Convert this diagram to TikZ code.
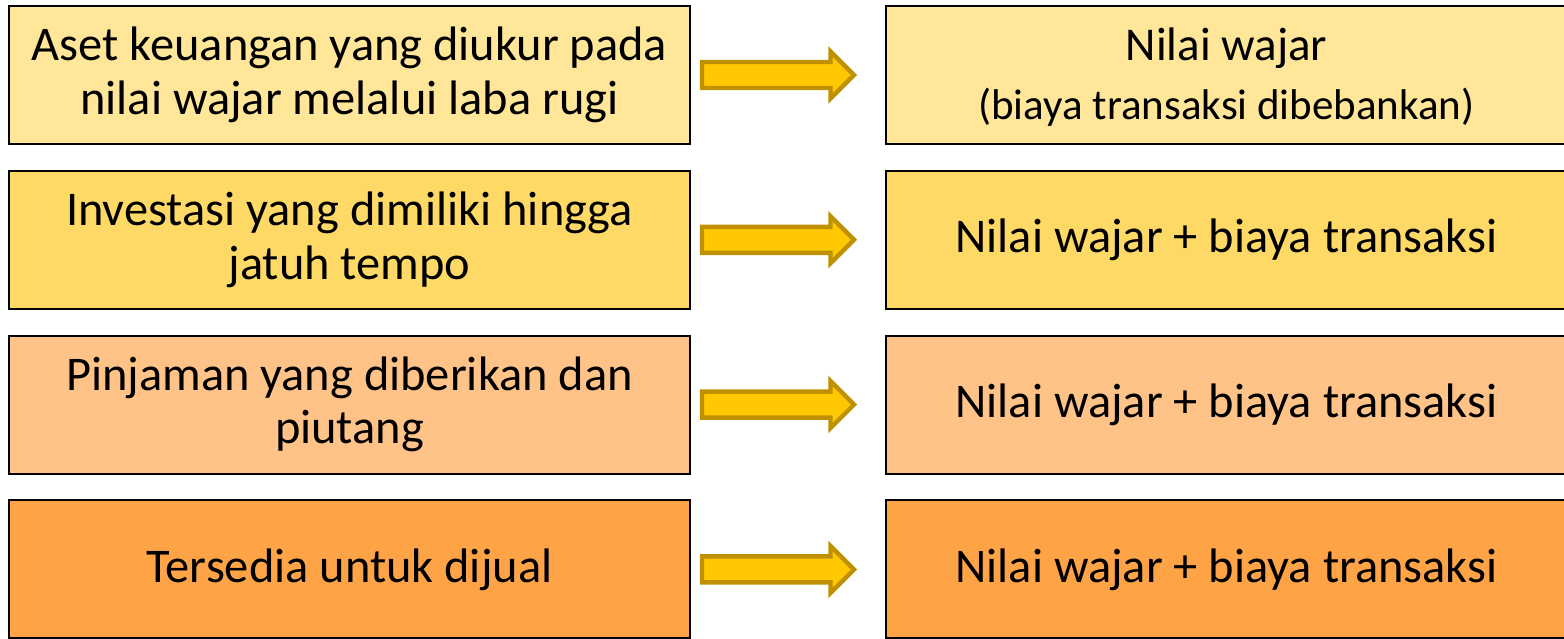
\documentclass[tikz,border=0pt]{standalone}
\usepackage{fontspec}
\setmainfont{Carlito}
\usepackage{tikz}
\usetikzlibrary{positioning,shapes.arrows,calc}
\definecolor{kuningmuda}{HTML}{FFE699}
\definecolor{kuning}{HTML}{FFD966}
\definecolor{jingga}{HTML}{FFC287}
\definecolor{jinggatua}{HTML}{FFA347}
\definecolor{emas}{HTML}{FFC800}
\definecolor{emastua}{HTML}{BF9000}

\begin{document}
\begin{tikzpicture}[
			node distance=12.4pt and 97pt,
			kat/.style={draw=black,line width=1pt,minimum width=340.5pt,minimum height=69pt,inner sep=0pt,align=center,font=\fontsize{24.2}{26.7}\selectfont},
			nilai/.style={kat},
			panah/.style={single arrow,draw=emastua,fill=emas,line width=2.2pt,minimum height=76pt,inner xsep=0pt,inner ysep=5.4pt,single arrow head extend=5.25pt,xshift=-8.25pt}
			]
			\useasboundingbox (0,0) rectangle (782pt,-319pt);
			\node[kat,fill=kuningmuda,anchor=north west] (a1) at (4pt,-2.5pt) {Aset keuangan yang diukur pada\\nilai wajar melalui laba rugi};
			\node[kat,fill=kuning] (a2) [below=of a1] {Investasi yang dimiliki hingga\\jatuh tempo};
			\node[kat,fill=jingga] (a3) [below=of a2] {Pinjaman yang diberikan dan\\piutang};
			\node[kat,fill=jinggatua] (a4) [below=of a3] {Tersedia untuk dijual};
			\node[nilai,fill=kuningmuda,text depth=1.5pt] (b1) [right=of a1] {\fontsize{23.5}{26}\selectfont Nilai wajar\\[3pt]\fontsize{21.5}{24}\selectfont(biaya transaksi dibebankan)};
			\node[nilai,fill=kuning] (b2) [right=of a2] {Nilai wajar + biaya transaksi};
			\node[nilai,fill=jingga] (b3) [right=of a3] {Nilai wajar + biaya transaksi};
			\node[nilai,fill=jinggatua] (b4) [right=of a4] {Nilai wajar + biaya transaksi};
			\node[panah] (p1) at ($(a1.east)!0.5!(b1.west)$) {};
			\node[panah] (p2) at ($(a2.east)!0.5!(b2.west)$) {};
			\node[panah] (p3) at ($(a3.east)!0.5!(b3.west)$) {};
			\node[panah] (p4) at ($(a4.east)!0.5!(b4.west)$) {};
		\end{tikzpicture}
\end{document}
